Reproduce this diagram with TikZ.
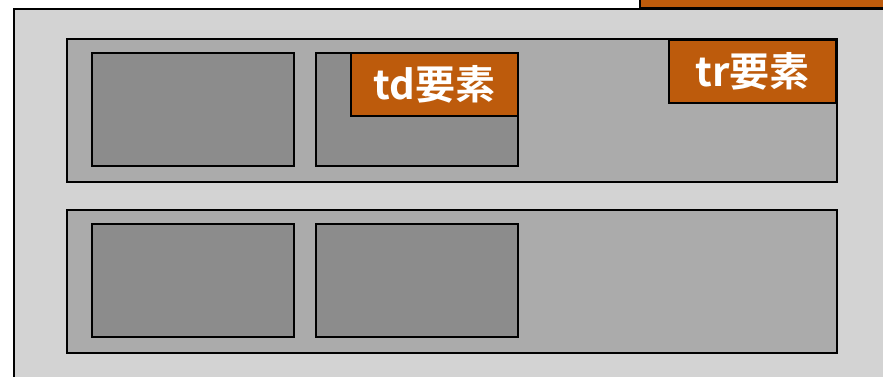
\documentclass[tikz,border=0pt]{standalone}
\usepackage{fontspec}
\newfontfamily\jpfont{Noto Sans CJK JP}[BoldFont={* Bold}]
\usepackage{tikz}
\usetikzlibrary{calc, positioning}

\definecolor{tablegray}{HTML}{D3D3D3}
\definecolor{rowgray}{HTML}{ABABAB}
\definecolor{cellgray}{HTML}{8C8C8C}
\definecolor{labelorange}{HTML}{BD5B0C}

\begin{document}
\begin{tikzpicture}[x=1pt, y=1pt]
\tikzstyle{tbl_box}=[rectangle, draw, line width=1.8pt, inner sep=0pt]
\tikzstyle{tr_box}=[tbl_box, fill=rowgray, minimum width=770pt, minimum height=143pt]
\tikzstyle{td_box}=[tbl_box, fill=cellgray, minimum width=202pt, minimum height=113pt]
\tikzstyle{tag_box}=[tbl_box, fill=labelorange, text=white, minimum width=167pt,
	minimum height=63pt, font=\jpfont\bfseries\fontsize{40}{40}\selectfont]

\useasboundingbox (0,0) rectangle (883,376);
\begin{scope}
\clip (0,0) rectangle (883,376);
\node [tbl_box, fill=tablegray, anchor=north west, minimum width=900pt,
	minimum height=400pt] (table) at (13,368) {};
\node [tbl_box, fill=labelorange, anchor=south west, minimum width=260pt,
	minimum height=30pt] (otherTag) at (639,367) {};
\end{scope}

% rows
\node [tr_box, anchor=north west] (row1) at (66,338) {};
\node [tr_box, anchor=north west] (row2) at (66,167) {};

% cells
\node [td_box, anchor=north west] (cell11) at (91,324) {};
\node [td_box, anchor=north west] (cell12) at (315,324) {};
\node [td_box, anchor=north west] (cell21) at (91,153) {};
\node [td_box, anchor=north west] (cell22) at (315,153) {};

% labels
\node [tag_box, anchor=north east] (tdTag) at (cell12.north east) {td要素};
\node [tag_box, anchor=north west] (trTag) at (668,337) {tr要素};

\end{tikzpicture}
\end{document}
